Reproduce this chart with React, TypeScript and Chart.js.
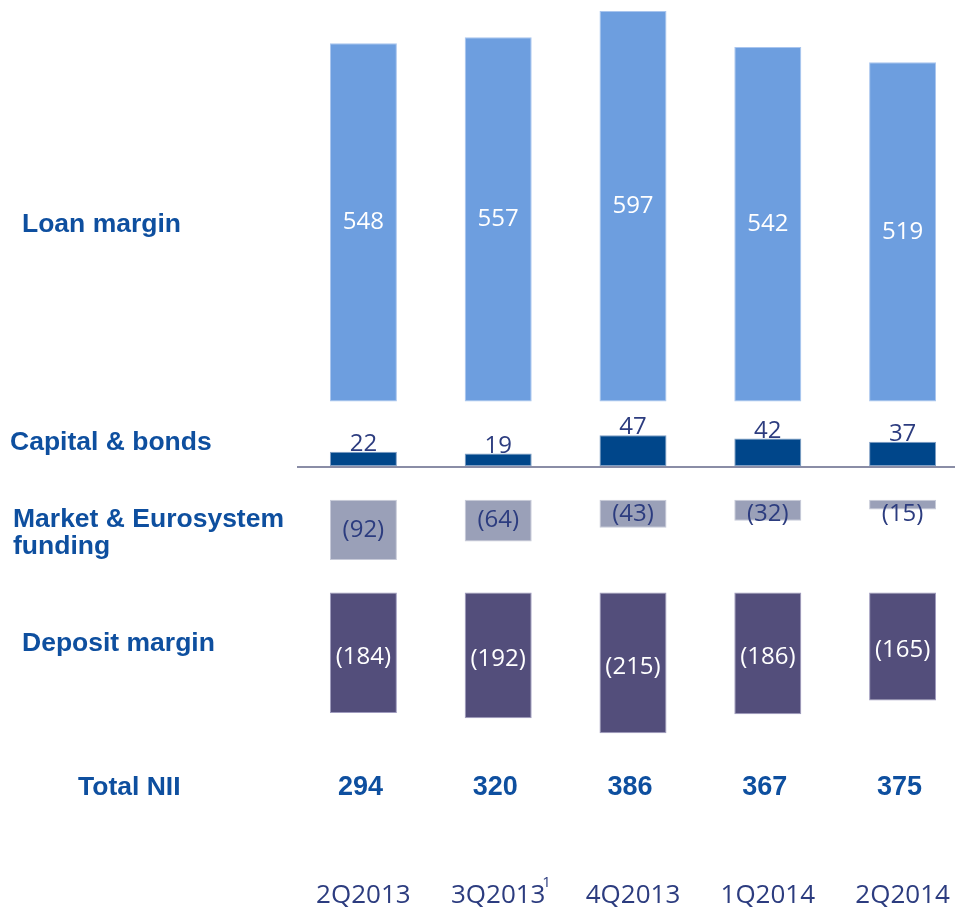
import React, { useEffect, useRef } from "react";
import { Chart, registerables } from "chart.js";

Chart.register(...registerables);

// ---------- data ----------
const categories = ["2Q2013", "3Q2013", "4Q2013", "1Q2014", "2Q2014"];
const loanMargin = [548, 557, 597, 542, 519];
const capitalBonds = [22, 19, 47, 42, 37];
const marketFunding = [-92, -64, -43, -32, -15];
const depositMargin = [-184, -192, -215, -186, -165];
const totalNII = [294, 320, 386, 367, 375];
const rowLabels = ["Loan margin", "Capital & bonds", "Market & Eurosystem", "funding", "Deposit margin", "Total NII"];
const footnoteCategory = 1; // 3Q2013 carries footnote "1"
const footnoteMark = "1";

// ---------- layout (value-axis offsets of each section) ----------
const LOAN_BASE = 0;
const CAPITAL_BASE = -98.5;
const MARKET_BASE = -150;
const DEPOSIT_BASE = -292;
const Y_MAX = 614;
const Y_MIN = -736;

const COLORS = {
  loan: "#6D9EDF",
  capital: "#00468A",
  market: "#9AA0B8",
  deposit: "#534E7B",
  rowLabel: "#0E4F9F",
  dark: "#2C3C7F",
  line: "#8A8DA6",
};

const LABEL_FONT = '"Open Sans", "Lato", sans-serif';
const BOLD_FONT = '"Liberation Sans", Arial, sans-serif';

const paren = (v: number) => `(${Math.abs(v)})`;

const overlayPlugin = {
  id: "overlay",
  beforeDatasetsDraw(chart: any) {
    const { ctx, scales } = chart;
    const y = scales.y;
    const ly = Math.round(y.getPixelForValue(CAPITAL_BASE)) + 1;
    ctx.save();
    ctx.strokeStyle = COLORS.line;
    ctx.lineWidth = 2;
    ctx.beginPath();
    ctx.moveTo(297, ly);
    ctx.lineTo(955, ly);
    ctx.stroke();
    ctx.restore();
  },
  afterDatasetsDraw(chart: any) {
    const { ctx, scales } = chart;
    const x = scales.x;
    const y = scales.y;
    ctx.save();

    categories.forEach((_, i) => {
      const cx = x.getPixelForValue(i);
      // loan: centered, white
      const lt = y.getPixelForValue(LOAN_BASE + loanMargin[i]);
      const lb = y.getPixelForValue(LOAN_BASE);
      ctx.font = `24px ${LABEL_FONT}`;
      ctx.textAlign = "center";
      ctx.textBaseline = "middle";
      ctx.fillStyle = "#FFFFFF";
      ctx.fillText(String(loanMargin[i]), cx, (lt + lb) / 2);

      // capital: above bar
      const ct = y.getPixelForValue(CAPITAL_BASE + capitalBonds[i]);
      ctx.fillStyle = COLORS.dark;
      ctx.textBaseline = "alphabetic";
      ctx.fillText(String(capitalBonds[i]), cx, ct - 1);

      // market: centered (min offset from top)
      const mt = y.getPixelForValue(MARKET_BASE);
      const mb = y.getPixelForValue(MARKET_BASE + marketFunding[i]);
      ctx.textBaseline = "middle";
      ctx.fillStyle = COLORS.dark;
      ctx.fillText(paren(marketFunding[i]), cx, Math.max((mt + mb) / 2, mt + 14));

      // deposit: centered, white
      const dt = y.getPixelForValue(DEPOSIT_BASE);
      const db = y.getPixelForValue(DEPOSIT_BASE + depositMargin[i]);
      ctx.fillStyle = "#FFFFFF";
      ctx.fillText(paren(depositMargin[i]), cx, (dt + db) / 2 + 4);

      // total NII
      ctx.font = `bold 27px ${BOLD_FONT}`;
      ctx.fillStyle = COLORS.rowLabel;
      ctx.fillText(String(totalNII[i]), cx - 3, 788);
    });

    // footnote mark
    const fx = x.getPixelForValue(footnoteCategory);
    ctx.font = `15px ${LABEL_FONT}`;
    ctx.fillStyle = COLORS.dark;
    ctx.textAlign = "left";
    ctx.textBaseline = "alphabetic";
    ctx.fillText(footnoteMark, fx + 44, 887);

    // row labels
    ctx.font = `bold 26.5px ${BOLD_FONT}`;
    ctx.fillStyle = COLORS.rowLabel;
    ctx.textAlign = "left";
    ctx.textBaseline = "middle";
    const pos: [number, number][] = [
      [22, 225],
      [10, 443],
      [13, 520],
      [13, 547],
      [22, 644],
      [78, 788],
    ];
    rowLabels.forEach((t, k) => ctx.fillText(t, pos[k][0], pos[k][1]));

    ctx.restore();
  },
};

export default function App() {
  const ref = useRef<HTMLCanvasElement | null>(null);

  useEffect(() => {
    if (!ref.current) return;
    const mk = (vals: number[], base: number) => vals.map((v) => [base, base + v]);
    const common = {
      grouped: false,
      barPercentage: 0.497,
      categoryPercentage: 1,
      borderWidth: 1,
      borderSkipped: false,
    };
    const chart = new Chart(ref.current, {
      type: "bar",
      data: {
        labels: categories,
        datasets: [
          { label: "Loan margin", data: mk(loanMargin, LOAN_BASE), backgroundColor: COLORS.loan, borderColor: "#A9C5EE", ...common },
          { label: "Capital & bonds", data: mk(capitalBonds, CAPITAL_BASE), backgroundColor: COLORS.capital, borderColor: "#7F9EC4", ...common },
          { label: "Market & Eurosystem funding", data: mk(marketFunding, MARKET_BASE), backgroundColor: COLORS.market, borderColor: "#C7CAD8", ...common },
          { label: "Deposit margin", data: mk(depositMargin, DEPOSIT_BASE), backgroundColor: COLORS.deposit, borderColor: "#9F9BBE", ...common },
        ] as any,
      },
      options: {
        animation: false,
        responsive: true,
        maintainAspectRatio: false,
        layout: { padding: { left: 296, right: 0, top: 0, bottom: 0 } },
        plugins: { legend: { display: false }, tooltip: { enabled: false } },
        scales: {
          x: {
            grid: { display: false, drawTicks: false },
            border: { display: false },
            ticks: {
              font: { family: LABEL_FONT, size: 26, lineHeight: 1.0 },
              color: COLORS.dark,
              padding: 0,
              maxRotation: 0,
              autoSkip: false,
            },
          },
          y: { display: false, min: Y_MIN, max: Y_MAX },
        },
      } as any,
      plugins: [overlayPlugin],
    });
    return () => chart.destroy();
  }, []);

  return (
    <div style={{ position: "absolute", left: 0, top: 0, width: 970, height: 909, background: "#fff" }}>
      <canvas ref={ref} />
    </div>
  );
}
